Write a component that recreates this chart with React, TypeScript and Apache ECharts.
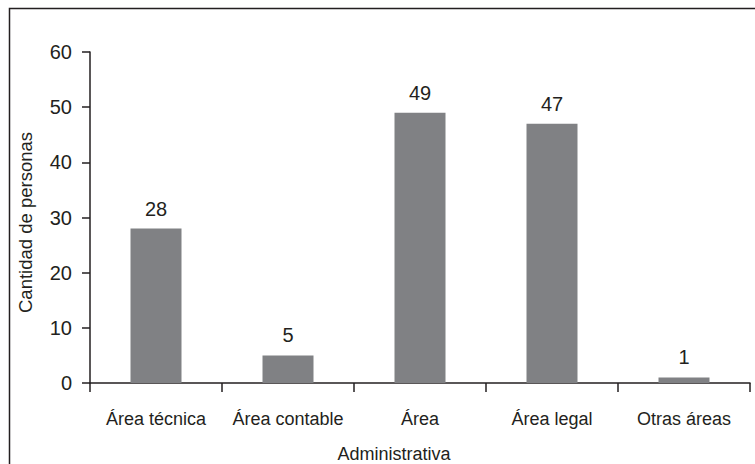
import React, { useEffect, useRef } from "react";
import * as echarts from "echarts";

const categories = ["Área técnica", "Área contable", "Área", "Área legal", "Otras áreas"];
const values = [28, 5, 49, 47, 1];
const yTicks = { min: 0, max: 60, interval: 10 };
const xName = "Administrativa";
const yName = "Cantidad de personas";

const TEXT = "#231f20";
const FONT = "'Liberation Sans', Arial, Helvetica, sans-serif";

export default function App() {
  const ref = useRef<HTMLDivElement>(null);
  useEffect(() => {
    document.body.style.margin = "0";
    if (!ref.current) return;
    const chart = echarts.init(ref.current, undefined, { renderer: "svg" });
    chart.setOption({
      animation: false,
      textStyle: { fontFamily: FONT, color: TEXT },
      graphic: [
        {
          type: "rect",
          shape: { x: 9.5, y: 8.5, width: 770, height: 480 },
          style: { fill: "none", stroke: TEXT, lineWidth: 1.5 },
          silent: true,
        },
      ],
      grid: { left: 90, right: 5, top: 52, bottom: 81, containLabel: false, outerBoundsMode: "none" },
      xAxis: {
        type: "category",
        data: categories,
        boundaryGap: true,
        name: xName,
        nameLocation: "middle",
        nameGap: 62,
        nameTextStyle: { fontSize: 18, color: TEXT, fontFamily: FONT, padding: [0, 52, 0, 0] },
        axisLine: { show: true, lineStyle: { color: TEXT, width: 1.5 } },
        axisTick: { show: true, alignWithLabel: false, length: 9, inside: false, lineStyle: { color: TEXT, width: 1.5 } },
        axisLabel: { fontSize: 18, color: TEXT, margin: 27, fontFamily: FONT, interval: 0 },
        splitLine: { show: false },
      },
      yAxis: {
        type: "value",
        min: yTicks.min,
        max: yTicks.max,
        interval: yTicks.interval,
        name: yName,
        nameLocation: "middle",
        nameGap: 55,
        nameRotate: 90,
        nameTextStyle: { fontSize: 18.5, color: TEXT, fontFamily: FONT, padding: [0, 10, 0, 0] },
        axisLine: { show: true, lineStyle: { color: TEXT, width: 1.5 } },
        axisTick: { show: true, length: 8, lineStyle: { color: TEXT, width: 1.5 } },
        axisLabel: { fontSize: 20, color: TEXT, margin: 18, fontFamily: FONT },
        splitLine: { show: false },
      },
      series: [
        {
          type: "bar",
          data: values,
          barWidth: 51,
          itemStyle: { color: "#808184" },
          label: {
            show: true,
            position: "top",
            distance: 10,
            fontSize: 20,
            color: TEXT,
            fontFamily: FONT,
          },
        },
      ],
    });
    return () => chart.dispose();
  }, []);
  return <div ref={ref} style={{ width: 755, height: 464 }} />;
}
